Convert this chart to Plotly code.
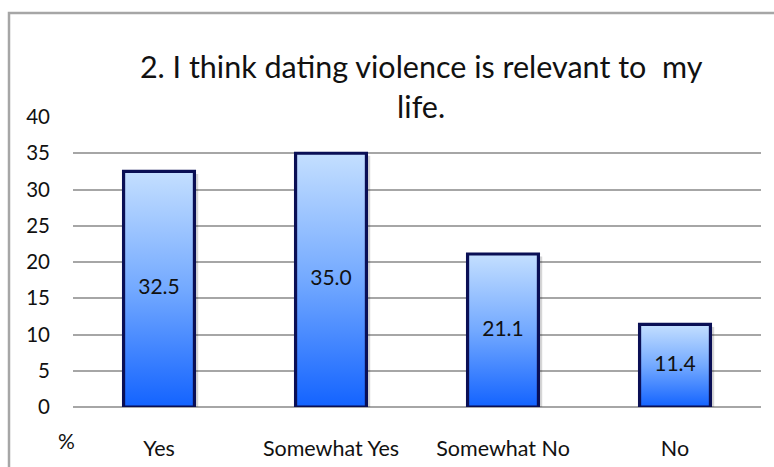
import plotly.graph_objects as go

categories = ["Yes", "Somewhat Yes", "Somewhat No", "No"]
values = [32.5, 35.0, 21.1, 11.4]
value_labels = ["32.5", "35.0", "21.1", "11.4"]
y_ticks = [0, 5, 10, 15, 20, 25, 30, 35, 40]

title_text = "2. I think dating violence is relevant to  my<br>life."

BAR_HALF = 0.206
FONT = "Lato"

fig = go.Figure()

for i, v in enumerate(values):
    xs = [i - BAR_HALF, i - BAR_HALF, i + BAR_HALF, i + BAR_HALF, i - BAR_HALF]
    ys = [0, v, v, 0, 0]
    # soft drop shadow on the right of each bar
    fig.add_trace(go.Scatter(
        x=[x + 0.022 for x in xs], y=[max(y - 0.35, 0) for y in ys],
        mode="lines", fill="toself", fillcolor="rgba(0,0,0,0.16)",
        line=dict(width=0), hoverinfo="skip", showlegend=False,
    ))
    # gradient-filled bar with dark outline
    fig.add_trace(go.Scatter(
        x=xs, y=ys, mode="lines", fill="toself",
        fillgradient=dict(
            type="vertical", start=0, stop=v,
            colorscale=[[0, "#1363ff"], [0.5, "#73a9ff"], [1, "#c4dfff"]],
        ),
        line=dict(color="#0a0f55", width=3.2),
        hoverinfo="skip", showlegend=False,
    ))

# value labels centred inside the bars
fig.add_trace(go.Scatter(
    x=list(range(len(values))), y=[v / 2 for v in values],
    mode="text", text=value_labels,
    textfont=dict(family=FONT, size=21, color="#111111"),
    hoverinfo="skip", showlegend=False,
))

fig.update_layout(
    width=774, height=467,
    margin=dict(l=73, r=13, t=117, b=60, autoexpand=False),
    paper_bgcolor="white", plot_bgcolor="white",
    title=dict(
        text=title_text,
        font=dict(family=FONT, size=30.5, color="#111111"),
        x=0.506, xanchor="center", xref="paper",
        y=1 - 78 / 467, yanchor="top", yref="container",
        automargin=False,
    ),
    xaxis=dict(
        range=[-0.5, 3.5], tickmode="array",
        tickvals=list(range(len(categories))), ticktext=categories,
        showgrid=False, zeroline=False, showline=False,
        tickfont=dict(family=FONT, size=21.5, color="#111111"),
        ticklabelstandoff=26, fixedrange=True, automargin=False,
    ),
    yaxis=dict(
        range=[0, 40], tickmode="array", tickvals=y_ticks,
        showgrid=True, gridcolor="#a6a6a6", gridwidth=1.6,
        zeroline=True, zerolinecolor="#a6a6a6", zerolinewidth=1.6,
        showline=False,
        tickfont=dict(family=FONT, size=20.5, color="#111111"),
        ticklabelstandoff=22, fixedrange=True, automargin=False,
    ),
    shapes=[dict(
        type="rect", xref="paper", yref="paper",
        x0=(9 - 73) / 688, x1=1.2, y0=-0.5, y1=(407 - 13) / 290,
        line=dict(color="#a6a6a6", width=2.5), fillcolor="rgba(0,0,0,0)",
        layer="below",
    )],
    annotations=[dict(
        text="%", xref="paper", yref="paper",
        x=(66 - 73) / 688, y=(407 - 440) / 290,
        xanchor="center", yanchor="middle", showarrow=False,
        font=dict(family=FONT, size=21, color="#111111"),
    )],
)

fig.write_html("out.html")
